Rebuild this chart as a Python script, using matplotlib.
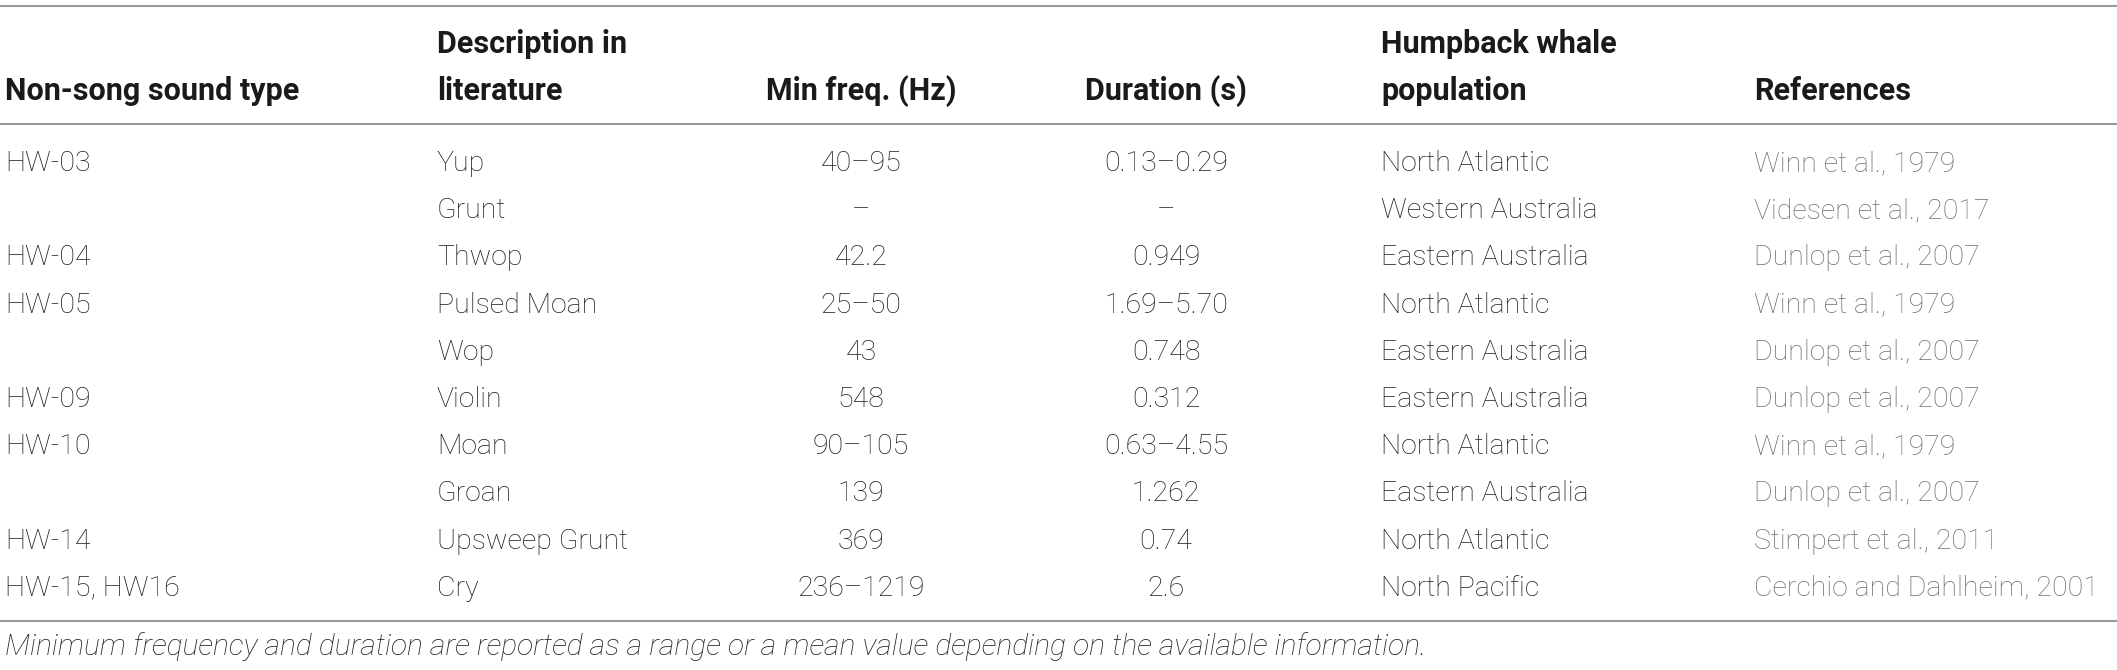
import matplotlib
matplotlib.use("Agg")
import matplotlib.pyplot as plt

# table contents
sound_types = ["HW-03", "", "HW-04", "HW-05", "", "HW-09", "HW-10", "", "HW-14", "HW-15, HW16"]
descriptions = ["Yup", "Grunt", "Thwop", "Pulsed Moan", "Wop", "Violin", "Moan", "Groan",
                "Upsweep Grunt", "Cry"]
min_freq = ["40\u201395", "\u2013", "42.2", "25\u201350", "43", "548", "90\u2013105", "139",
            "369", "236\u20131219"]
duration = ["0.13\u20130.29", "\u2013", "0.949", "1.69\u20135.70", "0.748", "0.312",
            "0.63\u20134.55", "1.262", "0.74", "2.6"]
populations = ["North Atlantic", "Western Australia", "Eastern Australia", "North Atlantic",
               "Eastern Australia", "Eastern Australia", "North Atlantic", "Eastern Australia",
               "North Atlantic", "North Pacific"]
references = ["Winn et al., 1979", "Videsen et al., 2017", "Dunlop et al., 2007",
              "Winn et al., 1979", "Dunlop et al., 2007", "Dunlop et al., 2007",
              "Winn et al., 1979", "Dunlop et al., 2007", "Stimpert et al., 2011",
              "Cerchio and Dahlheim, 2001"]
headers = ["Non-song sound type", "Description in\nliterature", "Min freq. (Hz)",
           "Duration (s)", "Humpback whale\npopulation", "References"]
caption = ("Minimum frequency and duration are reported as a range or a mean value "
           "depending on the available information.")

W, H = 2117, 670
fig = plt.figure(figsize=(W / 100, H / 100), dpi=100)
ax = fig.add_axes([0, 0, 1, 1])
ax.set_xlim(0, W)
ax.set_ylim(H, 0)
ax.axis("off")

font = ["Roboto", "DejaVu Sans"]
fs = 20.5
body_col = "#1f1c1d"
ref_col = "#6f6f6f"
line_col = "#999999"

# column x positions and alignment
col_x = [5, 437, 861, 1166, 1381, 1754]
col_ha = ["left", "left", "center", "center", "left", "left"]

# rules
for y in (6, 124, 621):
    ax.plot([0, W], [y, y], color=line_col, lw=1.5, solid_capstyle="butt")

# header (two lines, bottom aligned)
for x, ha, h in zip(col_x, col_ha, headers):
    lines = h.split("\n")
    for k, line in enumerate(reversed(lines)):
        ax.text(x, 100 - k * 47, line, ha=ha, va="baseline", fontsize=22,
                fontweight="bold", color="#1a1a1a", family=font)

# body rows
first, step = 171, 47.2
columns = [sound_types, descriptions, min_freq, duration, populations, references]
for c, (x, ha, vals) in enumerate(zip(col_x, col_ha, columns)):
    color = ref_col if c == 5 else body_col
    for i, v in enumerate(vals):
        ax.text(x, first + i * step, v, ha=ha, va="baseline", fontsize=fs,
                fontweight="light", color=color, family=font)

ax.text(5, 655, caption, ha="left", va="baseline", fontsize=21.6, fontweight="light",
        style="italic", color=body_col, family=font)

fig.savefig("out.png", dpi=100, facecolor="white")
